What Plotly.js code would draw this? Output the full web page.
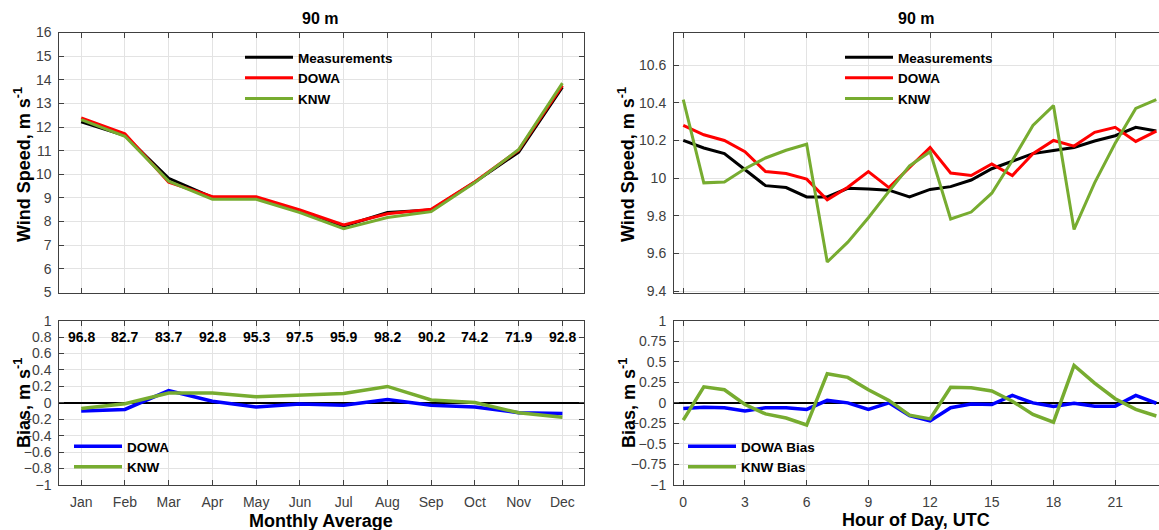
<!DOCTYPE html>
<html>
<head>
<meta charset="utf-8">
<script src="https://cdn.plot.ly/plotly-3.0.1.min.js"></script>
<style>html,body{margin:0;padding:0;background:#fff;}#chart{width:1159px;height:530px;}</style>
</head>
<body>
<div id="chart"></div>
<script>
// ---------- Data ----------
const monthIdx = [1,2,3,4,5,6,7,8,9,10,11,12];
const monthLabels = ['Jan','Feb','Mar','Apr','May','Jun','Jul','Aug','Sep','Oct','Nov','Dec'];
const monthMeas = [12.22,11.64,9.83,9.02,9.0,8.45,7.81,8.38,8.49,9.67,10.94,13.69];
const monthDOWA = [12.39,11.72,9.67,9.05,9.05,8.49,7.86,8.33,8.52,9.69,11.02,13.76];
const monthKNW  = [12.31,11.61,9.71,8.94,8.94,8.38,7.70,8.17,8.42,9.65,11.05,13.86];
const monthBiasDOWA = [-0.10,-0.08,0.15,0.02,-0.05,-0.015,-0.03,0.04,-0.03,-0.05,-0.12,-0.13];
const monthBiasKNW  = [-0.07,-0.01,0.12,0.12,0.075,0.10,0.115,0.20,0.035,0.005,-0.12,-0.175];
const monthAvail = ['96.8','82.7','83.7','92.8','95.3','97.5','95.9','98.2','90.2','74.2','71.9','92.8'];
const monthAvailY = 0.8;

const hours = [0,1,2,3,4,5,6,7,8,9,10,11,12,13,14,15,16,17,18,19,20,21,22,23];
const hourTicks = [0,3,6,9,12,15,18,21];
const hourMeas = [10.20,10.16,10.13,10.045,9.96,9.95,9.90,9.90,9.946,9.943,9.936,9.90,9.94,9.955,9.99,10.05,10.09,10.13,10.147,10.163,10.197,10.225,10.27,10.25];
const hourDOWA = [10.28,10.23,10.20,10.14,10.035,10.025,9.995,9.885,9.952,10.035,9.95,10.057,10.163,10.027,10.014,10.075,10.014,10.13,10.20,10.17,10.243,10.27,10.195,10.25];
const hourKNW  = [10.417,9.975,9.98,10.05,10.107,10.148,10.18,9.555,9.66,9.79,9.93,10.065,10.14,9.783,9.82,9.92,10.094,10.28,10.385,9.728,9.975,10.185,10.37,10.417];
const hourBiasDOWA = [-0.07,-0.055,-0.06,-0.10,-0.06,-0.06,-0.08,0.03,0.0,-0.08,0.0,-0.155,-0.22,-0.06,-0.015,-0.02,0.09,0.0,-0.045,-0.005,-0.04,-0.04,0.09,-0.005];
const hourBiasKNW  = [-0.21,0.195,0.16,-0.02,-0.135,-0.185,-0.27,0.355,0.31,0.16,0.03,-0.15,-0.195,0.19,0.185,0.145,0.02,-0.14,-0.235,0.455,0.24,0.05,-0.08,-0.16];

// ---------- Styles ----------
const C_BLACK = '#000000', C_RED = '#ff0000', C_GREEN = '#77ac30', C_BLUE = '#0000ff';
const FONT = 'Liberation Sans, Arial, sans-serif';
const tickFont = {family: FONT, size: 14, color: '#404040'};
const W = 1159, H = 530;
const px = v => v / W;
const py = v => 1 - v / H;

const traces = [
  {x: monthIdx, y: monthMeas, name: 'Measurements', xaxis: 'x', yaxis: 'y', legend: 'legend', line: {color: C_BLACK, width: 3}},
  {x: monthIdx, y: monthDOWA, name: 'DOWA', xaxis: 'x', yaxis: 'y', legend: 'legend', line: {color: C_RED, width: 3}},
  {x: monthIdx, y: monthKNW, name: 'KNW', xaxis: 'x', yaxis: 'y', legend: 'legend', line: {color: C_GREEN, width: 3}},
  {x: monthIdx, y: monthBiasDOWA, name: 'DOWA', xaxis: 'x2', yaxis: 'y2', legend: 'legend2', line: {color: C_BLUE, width: 3.5}},
  {x: monthIdx, y: monthBiasKNW, name: 'KNW', xaxis: 'x2', yaxis: 'y2', legend: 'legend2', line: {color: C_GREEN, width: 3.5}},
  {x: hours, y: hourMeas, name: 'Measurements', xaxis: 'x3', yaxis: 'y3', legend: 'legend3', line: {color: C_BLACK, width: 3}},
  {x: hours, y: hourDOWA, name: 'DOWA', xaxis: 'x3', yaxis: 'y3', legend: 'legend3', line: {color: C_RED, width: 3}},
  {x: hours, y: hourKNW, name: 'KNW', xaxis: 'x3', yaxis: 'y3', legend: 'legend3', line: {color: C_GREEN, width: 3}},
  {x: hours, y: hourBiasDOWA, name: 'DOWA Bias', xaxis: 'x4', yaxis: 'y4', legend: 'legend4', line: {color: C_BLUE, width: 3.5}},
  {x: hours, y: hourBiasKNW, name: 'KNW Bias', xaxis: 'x4', yaxis: 'y4', legend: 'legend4', line: {color: C_GREEN, width: 3.5}}
].map(t => Object.assign({type: 'scatter', mode: 'lines', showlegend: true, hoverinfo: 'skip'}, t));

function xa(domain, range, tickvals, ticktext, showLabels, anchor, mirror) {
  return {
    domain: domain, range: range, anchor: anchor,
    tickmode: 'array', tickvals: tickvals, ticktext: ticktext,
    showticklabels: showLabels, tickfont: tickFont,
    ticks: 'inside', ticklen: 5, tickcolor: '#404040',
    showline: true, linecolor: '#404040', linewidth: 1, mirror: mirror,
    showgrid: true, gridcolor: '#e3e3e3', gridwidth: 1,
    zeroline: false, fixedrange: true, ticklabelstandoff: 4
  };
}
function ya(domain, range, dtick, anchor, mirror, zero) {
  return {
    domain: domain, range: range, anchor: anchor,
    tick0: 0, dtick: dtick, tickfont: tickFont,
    ticks: 'inside', ticklen: 5, tickcolor: '#404040',
    showline: true, linecolor: '#404040', linewidth: 1, mirror: mirror,
    showgrid: true, gridcolor: '#e3e3e3', gridwidth: 1,
    zeroline: zero, zerolinecolor: '#000000', zerolinewidth: 1.5,
    fixedrange: true, ticklabelstandoff: 4
  };
}

const leftX = [px(59.3), px(584.3)];
const rightX = [px(674), 1];
const topY = [py(292.5), py(32.5)];
const botY = [py(485), py(320.7)];

const legendCommon = {
  bgcolor: 'rgba(0,0,0,0)', borderwidth: 0,
  font: {family: FONT, size: 13.5, color: '#000000', weight: 'bold'},
  xanchor: 'left', yanchor: 'top', tracegroupgap: 0, itemwidth: 48
};

const annotations = [];
monthIdx.forEach((m, i) => annotations.push({
  x: m, y: monthAvailY, xref: 'x2', yref: 'y2', text: '<b>' + monthAvail[i] + '</b>',
  showarrow: false, font: {family: FONT, size: 14, color: '#000'}, xanchor: 'center', yanchor: 'middle'
}));
const titleFont = {family: FONT, size: 16, color: '#000'};
const axTitleFont = {family: FONT, size: 18, color: '#000'};
annotations.push(
  {text: '<b>90 m</b>', x: px(320), y: py(19), xref: 'paper', yref: 'paper', showarrow: false, font: titleFont, xanchor: 'center', yanchor: 'middle'},
  {text: '<b>90 m</b>', x: px(916), y: py(19), xref: 'paper', yref: 'paper', showarrow: false, font: titleFont, xanchor: 'center', yanchor: 'middle'},
  {text: '<b>Monthly Average</b>', x: px(321), y: py(521), xref: 'paper', yref: 'paper', showarrow: false, font: axTitleFont, xanchor: 'center', yanchor: 'middle'},
  {text: '<b>Hour of Day, UTC</b>', x: px(916), y: py(520), xref: 'paper', yref: 'paper', showarrow: false, font: axTitleFont, xanchor: 'center', yanchor: 'middle'},
  {text: '<b>Wind Speed, m s<sup>-1</sup></b>', x: px(22), y: py(165), xref: 'paper', yref: 'paper', showarrow: false, font: axTitleFont, textangle: -90, xanchor: 'center', yanchor: 'middle'},
  {text: '<b>Bias, m s<sup>-1</sup></b>', x: px(22), y: py(403), xref: 'paper', yref: 'paper', showarrow: false, font: axTitleFont, textangle: -90, xanchor: 'center', yanchor: 'middle'},
  {text: '<b>Wind Speed, m s<sup>-1</sup></b>', x: px(626), y: py(165), xref: 'paper', yref: 'paper', showarrow: false, font: axTitleFont, textangle: -90, xanchor: 'center', yanchor: 'middle'},
  {text: '<b>Bias, m s<sup>-1</sup></b>', x: px(627), y: py(403), xref: 'paper', yref: 'paper', showarrow: false, font: axTitleFont, textangle: -90, xanchor: 'center', yanchor: 'middle'}
);

const layout = {
  width: W, height: H,
  margin: {l: 0, r: 0, t: 0, b: 0, autoexpand: false},
  paper_bgcolor: '#ffffff', plot_bgcolor: '#ffffff',
  font: {family: FONT},
  xaxis: xa(leftX, [0.5, 12.5], monthIdx, monthLabels, false, 'y', 'ticks'),
  yaxis: ya(topY, [5, 16], 1, 'x', 'ticks', false),
  xaxis2: xa(leftX, [0.5, 12.5], monthIdx, monthLabels, true, 'y2', 'ticks'),
  yaxis2: ya(botY, [-1, 1], 0.2, 'x2', 'ticks', true),
  xaxis3: xa(rightX, [-0.45, 23.13], hourTicks, hourTicks.map(String), false, 'y3', 'ticks'),
  yaxis3: ya(topY, [9.393, 10.773], 0.2, 'x3', false, false),
  xaxis4: xa(rightX, [-0.45, 23.13], hourTicks, hourTicks.map(String), true, 'y4', 'ticks'),
  yaxis4: ya(botY, [-1, 1], 0.25, 'x4', false, true),
  legend: Object.assign({}, legendCommon, {x: px(240), y: py(42)}),
  legend2: Object.assign({}, legendCommon, {x: px(69), y: py(431)}),
  legend3: Object.assign({}, legendCommon, {x: px(840), y: py(42)}),
  legend4: Object.assign({}, legendCommon, {x: px(683), y: py(431)}),
  annotations: annotations,
  showlegend: true
};

Plotly.newPlot('chart', traces, layout, {displayModeBar: false, staticPlot: true});
</script>
</body>
</html>
